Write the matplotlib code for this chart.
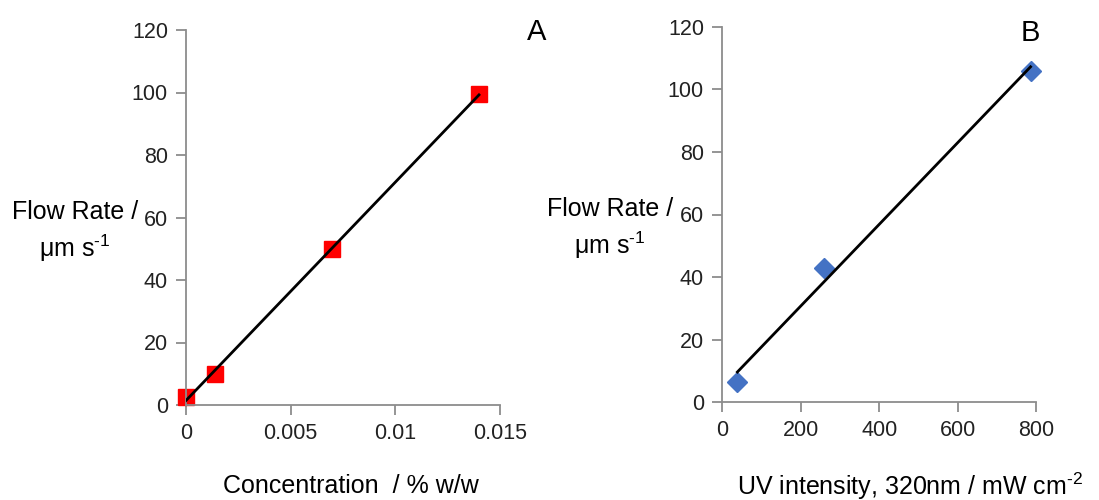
import numpy as np
import matplotlib.pyplot as plt

plt.rcParams['font.family'] = ['Liberation Sans', 'DejaVu Sans']
plt.rcParams['mathtext.fontset'] = 'custom'
plt.rcParams['mathtext.rm'] = 'Liberation Sans'
plt.rcParams['mathtext.it'] = 'Liberation Sans'

# panel A: flow rate vs concentration
conc = [0.0, 0.00137, 0.007, 0.014]
flow_a = [2.5, 10.0, 50.0, 99.5]

# panel B: flow rate vs UV intensity
uv = [39, 259, 785]
flow_b = [6.6, 42.8, 105.9]

fig = plt.figure(figsize=(10.99, 5), dpi=100)
ax1 = fig.add_axes([0.1692, 0.19, 0.2857, 0.75])
ax2 = fig.add_axes([0.657, 0.1954, 0.2861, 0.7512])

spine_col = '#8c8c8c'


def style(ax):
    for s in ['top', 'right']:
        ax.spines[s].set_visible(False)
    for s in ['left', 'bottom']:
        ax.spines[s].set_color(spine_col)
        ax.spines[s].set_linewidth(1.3)
    ax.tick_params(direction='out', length=7, width=1.3, color=spine_col,
                   labelsize=15.5, labelcolor='#222222', pad=6)
    ax.set_ylim(0, 120)
    ax.set_yticks(range(0, 121, 20))
    ax.set_ylabel('Flow Rate /\n\u03bcm s$^{\\text{-1}}$', rotation=0,
                  fontsize=18, ha='center', va='center', linespacing=1.35)


# A
style(ax1)
ax1.set_xlim(0, 0.015)
ax1.set_xticks([0, 0.005, 0.01, 0.015])
ax1.set_xticklabels(['0', '0.005', '0.01', '0.015'])
fa = np.polyfit(conc, flow_a, 1)
ax1.plot([conc[0], conc[-1]], np.polyval(fa, [conc[0], conc[-1]]),
         color='black', lw=2, zorder=3)
ax1.plot(conc, flow_a, 's', color='#ff0000', ms=11, mec='#ff0000',
         zorder=2, clip_on=False)
ax1.set_xlabel('Concentration  / % w/w', fontsize=18, va='center')
ax1.xaxis.set_label_coords(0.525, -0.216)
ax1.yaxis.set_label_coords(-0.353, 0.462)
ax1.text(1.117, 0.995, 'A', transform=ax1.transAxes, fontsize=21,
         ha='center', va='center')

# B
style(ax2)
ax2.set_xlim(0, 800)
ax2.set_xticks(range(0, 801, 200))
fb = np.polyfit(uv, flow_b, 1)
ax2.plot([uv[0], uv[-1]], np.polyval(fb, [uv[0], uv[-1]]),
         color='black', lw=2, zorder=3)
ax2.plot(uv, flow_b, 'D', color='#4472c4', ms=10, mec='#4472c4',
         zorder=2, clip_on=False)
ax2.set_xlabel('UV intensity, 320nm / mW cm$^{\\text{-2}}$', fontsize=18,
               va='center')
ax2.xaxis.set_label_coords(0.597, -0.223)
ax2.yaxis.set_label_coords(-0.356, 0.462)
ax2.text(0.98, 0.983, 'B', transform=ax2.transAxes, fontsize=21,
         ha='center', va='center')

fig.savefig('out.png', dpi=100)
